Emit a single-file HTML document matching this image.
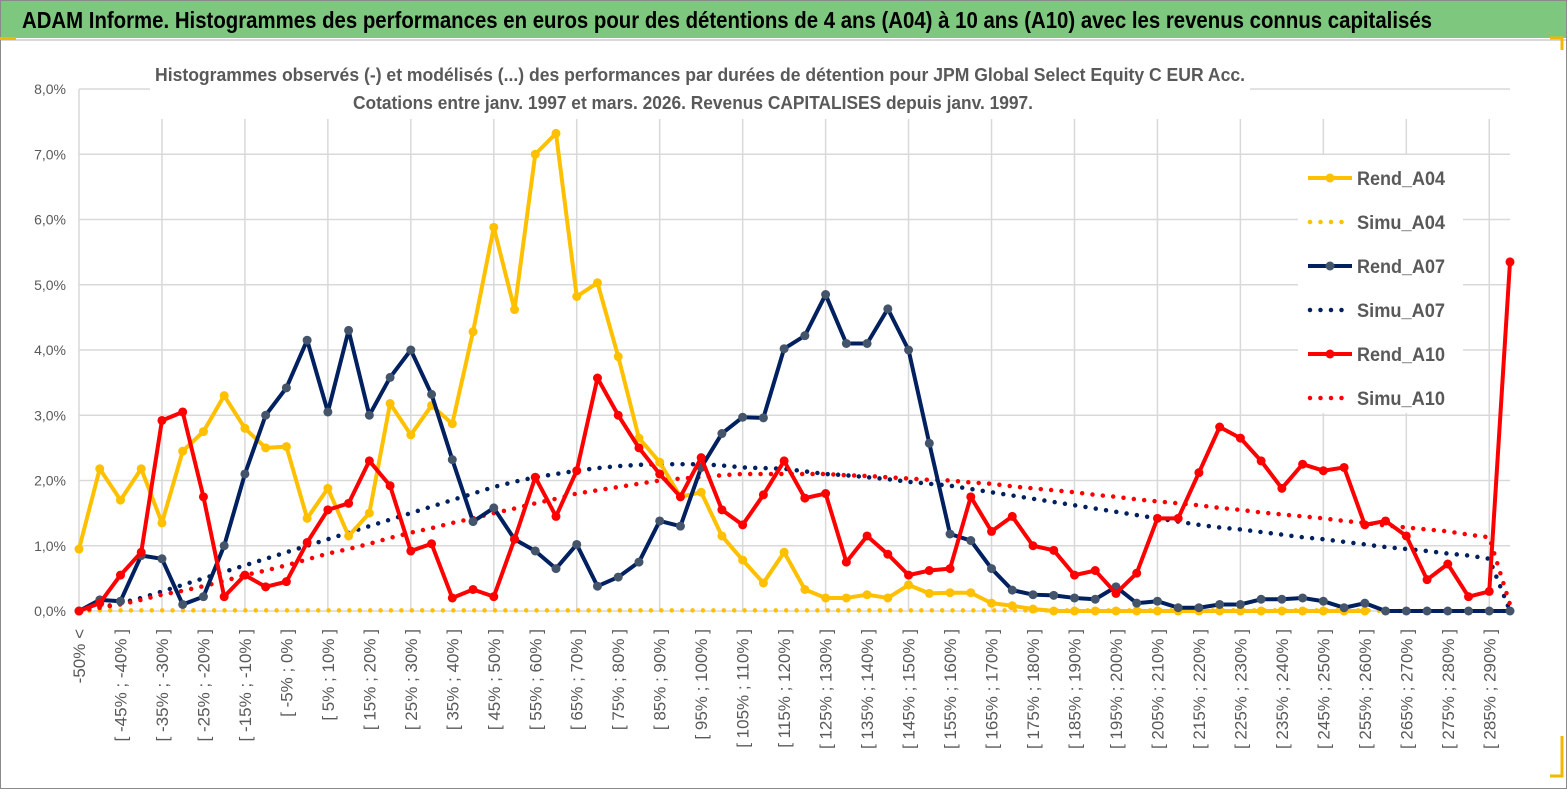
<!DOCTYPE html>
<html><head><meta charset="utf-8"><style>
body{margin:0;width:1567px;height:789px;overflow:hidden;background:#fff;font-family:"Liberation Sans",sans-serif}
</style></head><body>
<svg id="chart" width="1567" height="789" xmlns="http://www.w3.org/2000/svg">
<rect x="0.5" y="0.5" width="1566" height="788" fill="#fff" stroke="#8a8a8a"/>
<rect x="1" y="1" width="1565" height="37" fill="#7dc77f"/>
<line x1="1" y1="40" x2="1566" y2="40" stroke="#d9d9d9" stroke-width="2"/>
<rect x="0" y="37" width="16" height="3" fill="#f2b800"/>
<path d="M1550,38 h12 v12" fill="none" stroke="#f2b800" stroke-width="3"/>
<path d="M1550,776 h12 v-40" fill="none" stroke="#f2b800" stroke-width="3"/>
<text x="22" y="28" font-size="23" font-weight="bold" fill="#000" font-family="Liberation Sans Narrow,Liberation Sans,sans-serif" textLength="1410" lengthAdjust="spacingAndGlyphs">ADAM Informe. Histogrammes des performances en euros pour des détentions de 4 ans (A04) à 10 ans (A10) avec les revenus connus capitalisés</text>
<g id="grid"></g>
<rect x="150" y="58" width="1100" height="60" fill="#fff"/>
<text x="700" y="81" text-anchor="middle" font-size="18" font-weight="bold" fill="#595959" textLength="1090" lengthAdjust="spacingAndGlyphs">Histogrammes observés (-) et modélisés (...) des performances par durées de détention pour JPM Global Select Equity C EUR Acc.</text>
<text x="693" y="109" text-anchor="middle" font-size="18" font-weight="bold" fill="#595959" textLength="680" lengthAdjust="spacingAndGlyphs">Cotations entre janv. 1997 et mars. 2026. Revenus CAPITALISES depuis janv. 1997.</text>
<g id="yticks"></g>
<g id="xticks"></g>
<g id="series"></g>
<g id="legend"></g>
</svg>
<script>
const categoriesCount = 70;
const yTicks = [0,1,2,3,4,5,6,7,8];
const rendA04 = [0.95,2.18,1.70,2.18,1.35,2.45,2.75,3.30,2.80,2.50,2.52,1.42,1.88,1.15,1.50,3.18,2.70,3.15,2.87,4.28,5.88,4.62,7.00,7.32,4.82,5.03,3.90,2.65,2.28,1.75,1.82,1.15,0.78,0.43,0.90,0.33,0.20,0.20,0.25,0.20,0.40,0.27,0.28,0.28,0.12,0.08,0.03,0,0,0,0,0,0,0,0,0,0,0,0,0,0,0,0,0,0,0,0,0,0,0];
const rendA07 = [0,0.17,0.15,0.85,0.80,0.10,0.22,1.00,2.10,3.00,3.42,4.15,3.05,4.30,3.00,3.58,4.00,3.32,2.32,1.37,1.58,1.10,0.92,0.65,1.02,0.38,0.52,0.75,1.38,1.30,2.20,2.72,2.97,2.96,4.02,4.22,4.85,4.10,4.10,4.63,4.00,2.57,1.18,1.08,0.65,0.32,0.25,0.24,0.20,0.18,0.37,0.12,0.15,0.05,0.05,0.10,0.10,0.18,0.18,0.20,0.15,0.05,0.12,0,0,0,0,0,0,0];
const rendA10 = [0,0.12,0.55,0.90,2.92,3.05,1.75,0.22,0.55,0.37,0.45,1.05,1.55,1.65,2.30,1.92,0.92,1.03,0.20,0.33,0.22,1.10,2.05,1.45,2.15,3.57,3.00,2.50,2.10,1.75,2.35,1.55,1.32,1.78,2.30,1.73,1.80,0.75,1.15,0.87,0.55,0.62,0.65,1.75,1.22,1.45,1.00,0.93,0.55,0.62,0.27,0.58,1.42,1.42,2.12,2.82,2.65,2.30,1.88,2.25,2.15,2.20,1.32,1.38,1.15,0.48,0.72,0.22,0.30,5.35];
const simuA04 = [0,0.01,0.01,0.01,0.01,0.01,0.01,0.01,0.01,0.01,0.01,0.01,0.01,0.01,0.01,0.01,0.01,0.01,0.01,0.01,0.01,0.01,0.01,0.01,0.01,0.01,0.01,0.01,0.01,0.01,0.01,0.01,0.01,0.01,0.01,0.01,0.01,0.01,0.01,0.01,0.01,0.01,0.01,0.01,0.01,0.01,0.01,0.01,0.01,0.01,0.01,0.01,0.01,0.01,0.01,0.01,0.01,0.01,0.01,0.01,0.01,0.01,0.01,0,0,0,0,0,0,0];
const simuA07 = [0,0.05,0.12,0.2,0.3,0.4,0.5,0.6,0.7,0.8,0.9,1.0,1.1,1.2,1.3,1.4,1.5,1.6,1.7,1.8,1.9,1.98,2.05,2.1,2.15,2.19,2.22,2.24,2.25,2.25,2.25,2.23,2.2,2.19,2.18,2.14,2.1,2.08,2.05,2.02,1.98,1.95,1.92,1.87,1.82,1.77,1.72,1.67,1.62,1.57,1.52,1.47,1.42,1.37,1.32,1.28,1.25,1.21,1.17,1.13,1.1,1.06,1.02,0.98,0.95,0.92,0.88,0.85,0.8,0];
const simuA10 = [0,0.05,0.1,0.17,0.25,0.31,0.38,0.46,0.55,0.62,0.7,0.79,0.88,0.95,1.03,1.12,1.2,1.27,1.35,1.42,1.5,1.57,1.65,1.72,1.8,1.85,1.9,1.95,2.0,2.03,2.05,2.08,2.1,2.1,2.1,2.1,2.1,2.08,2.07,2.05,2.03,2.01,2.0,1.97,1.95,1.91,1.88,1.85,1.82,1.78,1.75,1.71,1.68,1.65,1.62,1.58,1.55,1.51,1.48,1.45,1.42,1.38,1.35,1.31,1.28,1.25,1.22,1.17,1.13,0.1];
const legendNames = ["Rend_A04","Simu_A04","Rend_A07","Simu_A07","Rend_A10","Simu_A10"];

const NS="http://www.w3.org/2000/svg";
const X0=79, X1=1510, Y0=611, YTOP=89, YMAX=8;
const xs=i=>X0+(X1-X0)*i/(categoriesCount-1);
const ys=v=>Y0-(Y0-YTOP)*v/YMAX;
function mk(tag,attrs,parent){const e=document.createElementNS(NS,tag);for(const k in attrs)e.setAttribute(k,attrs[k]);parent.appendChild(e);return e;}
function label(i){if(i===0)return "-50% <";const a=-50+5*(i-1);return "[ "+a+"% ; "+(a+5)+"% ]";}

const grid=document.getElementById('grid');
yTicks.forEach(t=>{
  const l=mk('line',{x1:X0,x2:X1,y1:ys(t),y2:ys(t),stroke:'#d9d9d9','stroke-width':1.5},grid);
  
  
  const tx=mk('text',{x:66,y:ys(t)+5,'text-anchor':'end','font-size':14,fill:'#595959'},document.getElementById('yticks'));
  tx.textContent=t.toFixed(1).replace('.',',')+'%';
  
  
});
for(let i=4;i<categoriesCount;i+=4){
  const l=mk('line',{x1:xs(i),x2:xs(i),y1:119,y2:Y0,stroke:'#d9d9d9','stroke-width':1.5},grid);
  
  
}
mk('line',{x1:X0,x2:X0,y1:YTOP,y2:Y0,stroke:'#d9d9d9','stroke-width':1.5},grid);
const xt=document.getElementById('xticks');
for(let i=0;i<categoriesCount;i+=2){
  const x=xs(i)+6;
  const tx=mk('text',{x:x,y:629,'text-anchor':'end','font-size':17,fill:'#595959',transform:`rotate(-90 ${x} 629)`},xt);
  tx.textContent=label(i);
  
  
}
const S=document.getElementById('series');
function dotted(data,color,name){
  const p=mk('polyline',{points:data.map((v,i)=>xs(i)+','+ys(v)).join(' '),fill:'none',stroke:color,'stroke-width':4.5,'stroke-linecap':'round','stroke-dasharray':'0 10.4'},S);
  
  
}
function solid(data,color,mcolor,name){
  const p=mk('polyline',{points:data.map((v,i)=>xs(i)+','+ys(v)).join(' '),fill:'none',stroke:color,'stroke-width':4,'stroke-linejoin':'round'},S);
  
  
  data.forEach((v,i)=>{const c=mk('circle',{cx:xs(i),cy:ys(v),r:4.5,fill:mcolor},S);
    
    });
}
dotted(simuA04,'#ffc000','simu-a04-line');
dotted(simuA07,'#002060','simu-a07-line');
dotted(simuA10,'#ff0000','simu-a10-line');
solid(rendA04.slice(0,63),'#ffc000','#ffc000','rend-a04-line');
solid(rendA07,'#002060','#44546a','rend-a07-line');
solid(rendA10,'#ff0000','#ff0000','rend-a10-line');

const L=document.getElementById('legend');
mk('rect',{x:1298,y:155,width:165,height:258,fill:'#fff'},L);
const lc=['#ffc000','#ffc000','#002060','#002060','#ff0000','#ff0000'];
legendNames.forEach((n,k)=>{
  const y=178+k*44;
  const g=mk('g',{},L);
  
  
  if(k%2===0){mk('line',{x1:1308,x2:1352,y1:y,y2:y,stroke:lc[k],'stroke-width':4},g);mk('circle',{cx:1330,cy:y,r:4.5,fill:k===2?'#44546a':lc[k]},g);}
  else mk('line',{x1:1310,x2:1352,y1:y,y2:y,stroke:lc[k],'stroke-width':4.5,'stroke-linecap':'round','stroke-dasharray':'0 10.5'},g);
  const t=mk('text',{x:1357,y:y+7,'font-size':19,fill:'#595959','font-weight':'bold',textLength:'88',lengthAdjust:'spacingAndGlyphs'},g);
  t.textContent=n;
});
</script>
</body></html>
